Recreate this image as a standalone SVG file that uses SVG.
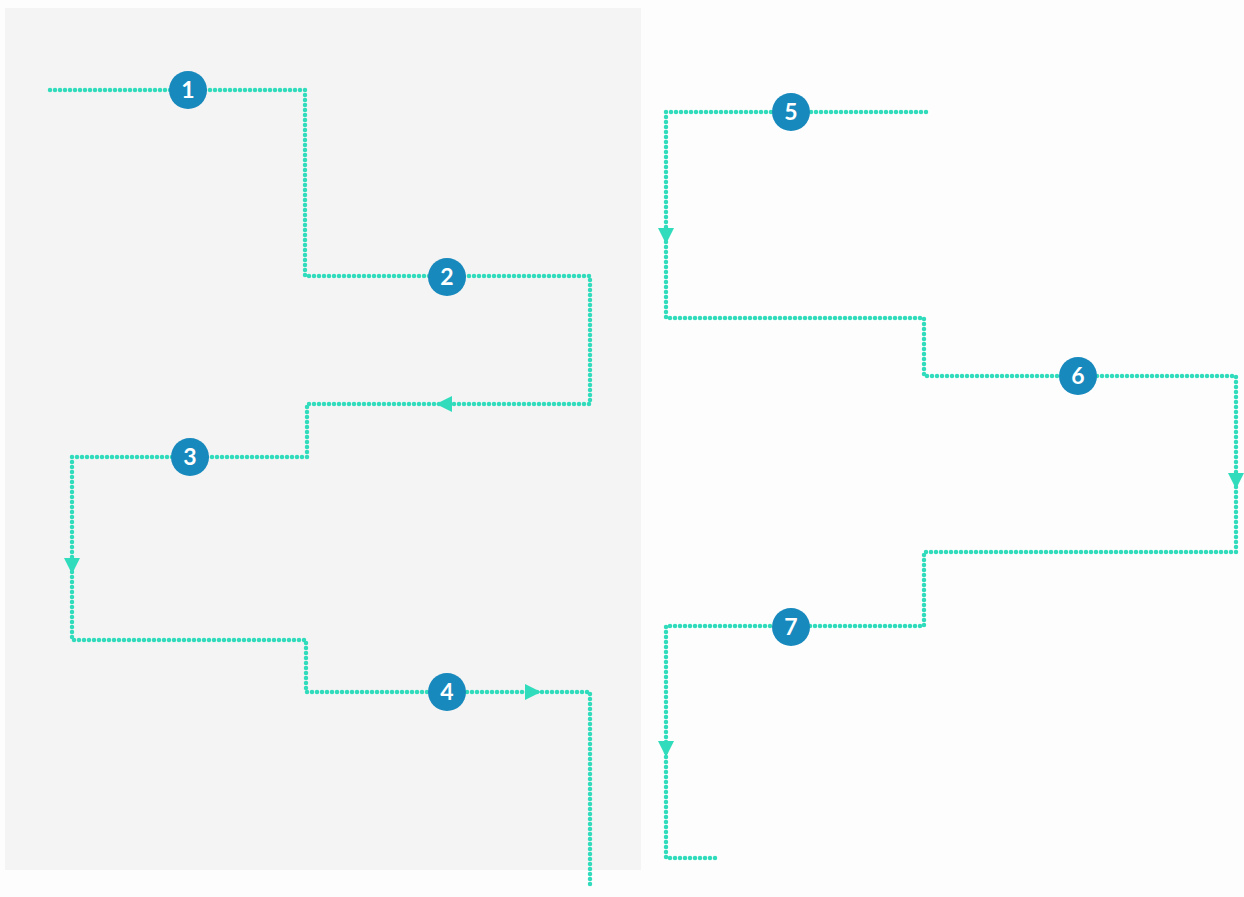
<svg xmlns="http://www.w3.org/2000/svg" width="1244" height="897" viewBox="0 0 1244 897">
<style>
.path{fill:none;stroke:#30dcbc;stroke-width:4.5;stroke-dasharray:0 5;stroke-linecap:round;stroke-linejoin:round}
.arrow{fill:#30dcbc}
.badge circle{fill:#1889bd}
.badge text{fill:#ffffff;font-family:"Lato","Liberation Sans",sans-serif;font-weight:bold;font-size:23px;text-anchor:middle}
</style>
<rect x="0" y="0" width="1244" height="897" fill="#fdfdfd"/>
<rect x="5" y="8" width="636" height="862" fill="#f4f4f4"/>
<g id="connectors">
<path class="path" d="M50 90 H305 V276 H590 V404 H307 V457 H72 V640 H306 V692 H590 V885"/>
<path class="path" d="M926 112 H666 V318 H924 V376 H1236 V552 H924 V626 H666 V858 H716"/>
<polygon class="arrow" points="436,404 452,396 452,412"/>
<polygon class="arrow" points="72,574 64,558 80,558"/>
<polygon class="arrow" points="541,692 525,684 525,700"/>
<polygon class="arrow" points="666,244 658,228 674,228"/>
<polygon class="arrow" points="1236,489 1228,473 1244,473"/>
<polygon class="arrow" points="666,757 658,741 674,741"/>
</g>
<g id="n1" class="badge"><circle cx="188" cy="90" r="19"/><text x="188" y="98">1</text></g>
<g id="n2" class="badge"><circle cx="447" cy="277" r="19"/><text x="447" y="285">2</text></g>
<g id="n3" class="badge"><circle cx="190" cy="457" r="19"/><text x="190" y="465">3</text></g>
<g id="n4" class="badge"><circle cx="447" cy="692" r="19"/><text x="447" y="700">4</text></g>
<g id="n5" class="badge"><circle cx="791" cy="112" r="19"/><text x="791" y="120">5</text></g>
<g id="n6" class="badge"><circle cx="1078" cy="376" r="19"/><text x="1078" y="384">6</text></g>
<g id="n7" class="badge"><circle cx="791" cy="627" r="19"/><text x="791" y="635">7</text></g>
</svg>
